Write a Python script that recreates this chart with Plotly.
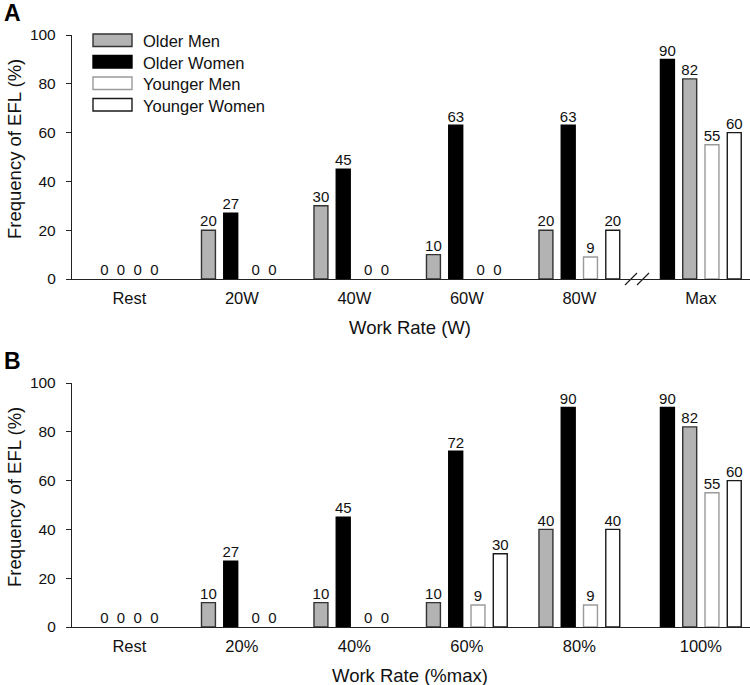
import plotly.graph_objects as go

# ---------------- data ----------------
series = ["Older Men", "Older Women", "Younger Men", "Younger Women"]
cats_a = ["Rest", "20W", "40W", "60W", "80W", "Max"]
cats_b = ["Rest", "20%", "40%", "60%", "80%", "100%"]

older_men_a = [0, 20, 30, 10, 20, 82]
older_women_a = [0, 27, 45, 63, 63, 90]
younger_men_a = [0, 0, 0, 0, 9, 55]
younger_women_a = [0, 0, 0, 0, 20, 60]

older_men_b = [0, 10, 10, 10, 40, 82]
older_women_b = [0, 27, 45, 72, 90, 90]
younger_men_b = [0, 0, 0, 9, 9, 55]
younger_women_b = [0, 0, 0, 30, 40, 60]

# ---------------- style / layout ----------------
FONT = "Liberation Sans, Arial, Helvetica, sans-serif"
fills = ["#b3b3b3", "#000000", "#ffffff", "#ffffff"]
edges = ["#333333", "#000000", "#9a9a9a", "#1a1a1a"]
AXC = "#222222"

# group centres on the numeric axis (last group pushed right after the break)
group_pos = [0, 1, 2, 3, 4, 5.08]
slot_step = 0.198
bar_w = 0.124
# slot order per group: in the last group Older Women comes first
slot_normal = [0, 1, 2, 3]
slot_last = [1, 0, 2, 3]
XRANGE = [-0.51, 5.517]

# pixel helpers for paper coords (plot area x 72..750, y 35..627)
L, R, T, B = 72, 750, 35, 627
def px(x):
    return (x - L) / (R - L)
def py(y):
    return (B - y) / (B - T)

fig = go.Figure()


def slot_x(si, gi, ngroups):
    order = slot_last if gi == ngroups - 1 else slot_normal
    return group_pos[gi] + (order[si] - 1.5) * slot_step


def add_panel(vals, xa, ya):
    ng = len(vals[0])
    for si, name in enumerate(series):
        xs = [slot_x(si, gi, ng) for gi in range(ng)]
        lw = [1.4 if v > 0 else 0 for v in vals[si]]
        fig.add_trace(go.Bar(
            x=xs, y=vals[si], width=bar_w, name=name, showlegend=False,
            marker=dict(color=fills[si], line=dict(color=edges[si], width=lw)),
            xaxis=xa, yaxis=ya, hoverinfo="skip"))
    # value labels, consecutive zeros merged into one string
    tx, ty, tt = [], [], []
    for gi in range(ng):
        items = sorted([(slot_x(si, gi, ng), vals[si][gi]) for si in range(len(series))])
        run = []
        for x, v in items + [(None, None)]:
            if v == 0:
                run.append(x)
                continue
            if run:
                tx.append(sum(run) / len(run)); ty.append(0)
                tt.append("\u00a0\u00a0".join(["0"] * len(run)))
                run = []
            if v is not None:
                tx.append(x); ty.append(v); tt.append(str(v))
    fig.add_trace(go.Scatter(
        x=tx, y=ty, text=tt, mode="text", textposition="top center",
        textfont=dict(family=FONT, size=15, color="#111"), showlegend=False,
        cliponaxis=False, xaxis=xa, yaxis=ya, hoverinfo="skip"))


add_panel([older_men_a, older_women_a, younger_men_a, younger_women_a], "x", "y")
add_panel([older_men_b, older_women_b, younger_men_b, younger_women_b], "x2", "y2")

yA = [py(279), 1.0]
yB = [0.0, py(383)]

xaxis_common = dict(range=XRANGE, showline=True, linecolor=AXC, linewidth=1.3,
                    showgrid=False, zeroline=False, ticks="", tickvals=group_pos,
                    tickfont=dict(family=FONT, size=16.5, color="#111"),
                    ticklabelstandoff=4)
yaxis_common = dict(range=[0, 100], showline=True, linecolor=AXC, linewidth=1.3,
                    showgrid=False, zeroline=False, ticks="outside", ticklen=5,
                    tickcolor=AXC, tickwidth=1.3, tickvals=[0, 20, 40, 60, 80, 100],
                    tickfont=dict(family=FONT, size=15.5, color="#111"),
                    ticklabelstandoff=7)

fig.update_layout(
    width=750, height=685,
    margin=dict(l=L, r=750 - R, t=T, b=685 - B),
    paper_bgcolor="white", plot_bgcolor="white",
    barmode="overlay", showlegend=False,
    xaxis=dict(**xaxis_common, anchor="y", domain=[0, 1], ticktext=cats_a),
    yaxis=dict(**yaxis_common, anchor="x", domain=yA),
    xaxis2=dict(**xaxis_common, anchor="y2", domain=[0, 1], ticktext=cats_b),
    yaxis2=dict(**yaxis_common, anchor="x2", domain=yB),
)

ann = []
shapes = []


def note(text, x, y, size, xanchor="center", angle=0, color="#111"):
    ann.append(dict(text=text, x=px(x), y=py(y), xref="paper", yref="paper",
                    xanchor=xanchor, yanchor="middle", textangle=angle,
                    showarrow=False, font=dict(family=FONT, size=size, color=color)))


# panel letters
note("<b>A</b>", 13, 13, 23, color="#000")
note("<b>B</b>", 13, 361, 23, color="#000")
# axis titles
note("Frequency of EFL (%)", 14, 149, 18.5, angle=-90)
note("Frequency of EFL (%)", 14, 497, 18.5, angle=-90)
note("Work Rate (W)", 410, 327, 18.5)
note("Work Rate (%max)", 410, 675, 18.5)

# legend (drawn swatches + labels)
row_tops = [34, 55.5, 77, 98.5]
for i, name in enumerate(series):
    t0 = row_tops[i]
    shapes.append(dict(type="rect", xref="paper", yref="paper",
                       x0=px(93), x1=px(132), y0=py(t0 + 12.5), y1=py(t0),
                       fillcolor=fills[i], line=dict(color=edges[i], width=1.4)))
    note(name, 141, t0 + 7, 16.5, xanchor="left")

# axis break marks on panel A
for x0, x1 in ((625, 637), (637, 649)):
    shapes.append(dict(type="line", xref="paper", yref="paper",
                       x0=px(x0), y0=py(285), x1=px(x1), y1=py(273),
                       line=dict(color=AXC, width=1.2)))

fig.update_layout(annotations=ann, shapes=shapes)
fig.write_html("out.html", config={"displayModeBar": False},
               post_script="document.body.style.margin='0';document.body.style.padding='0';")
